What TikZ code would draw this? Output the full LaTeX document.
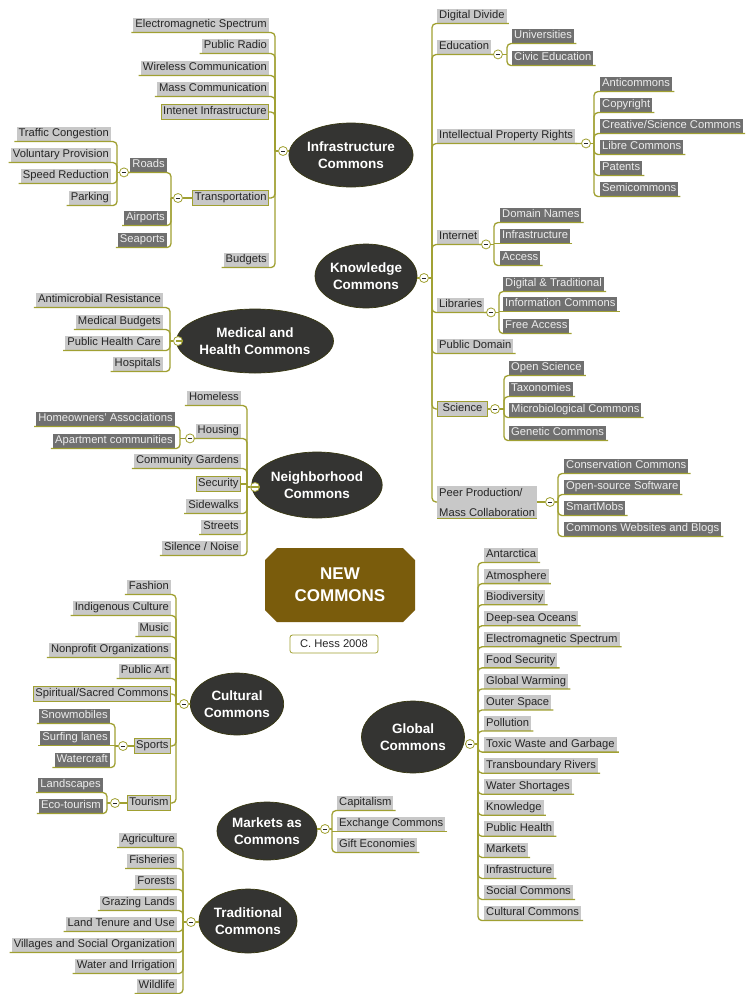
\documentclass[tikz,border=0pt]{standalone}
\usepackage{fontspec}
\setmainfont{Liberation Sans}
\usetikzlibrary{shapes.geometric}
\definecolor{oliv}{RGB}{160,160,50}
\definecolor{lgr}{RGB}{200,200,200}
\definecolor{dgr}{RGB}{112,112,112}
\definecolor{txt}{RGB}{38,38,38}
\definecolor{ellc}{RGB}{52,52,50}
\definecolor{newc}{RGB}{122,92,12}
\newcommand\labfont{\fontsize{11.2}{13}\selectfont}
\newcommand\labfontB{\fontsize{11.2}{20}\selectfont}
\newcommand\elfont{\fontsize{13.5}{17}\selectfont\bfseries}
\newcommand\myLU[2]{\draw[br] ([xshift=-2pt]#1.south west) -- (#1.south east -| #2) -- (#2);}
\newcommand\myRU[2]{\draw[br] ([xshift=2pt]#1.south east) -- (#1.south west -| #2) -- (#2);}
\newcommand\myLH[2]{\draw[br] ([xshift=-2pt]#1.south west) -- (#1.south east -| #2);}
\newcommand\myRH[2]{\draw[br] ([xshift=2pt]#1.south east) -- (#1.south west -| #2);}
\newcommand\myLB[2]{\draw[br] (#1.east) -- (#1.east -| #2) -- (#2);}
\newcommand\myRB[2]{\draw[br] (#1.west) -- (#1.west -| #2) -- (#2);}
\begin{document}
\begin{tikzpicture}[x=1pt,y=-1pt,
  lab/.style={font=\labfont, inner xsep=2pt, inner ysep=2pt, text height=8.3pt, text depth=2.4pt},
  lt/.style={lab, fill=lgr, text=txt},
  dk/.style={lab, fill=dgr, text=white!93!black},
  bx/.style={lt, draw=oliv, line width=0.9pt},
  br/.style={draw=oliv, line width=1.3pt, rounded corners=4pt},
  mn/.style={circle, draw=oliv, fill=white, line width=0.8pt, minimum size=9pt, inner sep=0pt,
    path picture={\draw[line width=0.8pt, txt] ([xshift=-2.2pt]path picture bounding box.center) -- ([xshift=2.2pt]path picture bounding box.center);}},
  el/.style={ellipse, fill=ellc, draw=oliv!35!black, line width=0.7pt, text=white, font=\elfont, align=center, inner sep=0pt}
]
\useasboundingbox (0,0) rectangle (747,994);
\fill[white] (0,0) rectangle (747,994);

% ---------------- Infrastructure Commons
\node[el, minimum width=116pt, minimum height=64pt] (IC) at (351,155) {Infrastructure\\Commons};
\node[mn] (mI) at (283,151) {};
\coordinate (tI) at (275,151);
\node[lt, anchor=east] (i1) at (269,25) {Electromagnetic Spectrum};
\node[lt, anchor=east] (i2) at (269,46) {Public Radio};
\node[lt, anchor=east] (i3) at (269,68) {Wireless Communication};
\node[lt, anchor=east] (i4) at (269,89) {Mass Communication};
\node[bx, anchor=east] (i5) at (269,112) {Intenet Infrastructure};
\node[bx, anchor=east] (i6) at (269,198) {Transportation};
\node[lt, anchor=east] (i7) at (269,260) {Budgets};
\node[mn] (mT) at (178,198) {};
\coordinate (tT) at (171,198);
\node[dk, anchor=east] (t1) at (167,165) {Roads};
\node[dk, anchor=east] (t2) at (167,218) {Airports};
\node[dk, anchor=east] (t3) at (167,240) {Seaports};
\node[mn] (mR) at (124,172.4) {};
\coordinate (tR) at (117,172.4);
\node[lt, anchor=east] (r1) at (111,134) {Traffic Congestion};
\node[lt, anchor=east] (r2) at (111,155) {Voluntary Provision};
\node[lt, anchor=east] (r3) at (111,176) {Speed Reduction};
\node[lt, anchor=east] (r4) at (111,198) {Parking};

\draw[br] (mI.east) -- (mI.east -| IC.west);
\draw[br] (mI.west) -- (tI);
\foreach \n in {i1,i2,i3,i4,i7} {\myLU{\n}{tI}}
\myLB{i5}{tI} \myLB{i6}{tI}
\draw[br] (i6.west) -- (mT.east);
\draw[br] (mT.west) -- (tT);
\foreach \n in {t1,t2,t3} {\myLU{\n}{tT}}
\draw[br] (t1.south west) -- (mR.east);
\draw[br] (mR.west) -- (tR);
\foreach \n in {r1,r2,r3,r4} {\myLU{\n}{tR}}

% ---------------- Knowledge Commons
\node[el, minimum width=102pt, minimum height=64pt] (KC) at (366,276) {Knowledge\\Commons};
\node[mn] (mK) at (424,278) {};
\coordinate (tK) at (432,278);
\node[lt, anchor=west] (k1) at (437,16) {Digital Divide};
\node[lt, anchor=west] (k2) at (437,47) {Education};
\node[lt, anchor=west] (k3) at (437,136) {Intellectual Property Rights};
\node[lt, anchor=west] (k4) at (437,237) {Internet};
\node[lt, anchor=west] (k5) at (437,305) {Libraries};
\node[lt, anchor=west] (k6) at (437,346) {Public Domain};
\node[bx, anchor=west, minimum width=50pt] (k7) at (437,409) {Science};
\node[font=\labfontB, inner xsep=2pt, inner ysep=2pt, fill=lgr, text=txt, align=left, anchor=west] (k8) at (437,502) {Peer Production/\\Mass Collaboration};

\node[mn] (mE) at (498,54.4) {};
\coordinate (tE) at (507,54.4);
\node[dk, anchor=west] (u1) at (512,36) {Universities};
\node[dk, anchor=west] (u2) at (512,58) {Civic Education};

\node[mn] (mIP) at (586,143.4) {};
\coordinate (tIP) at (594,143.4);
\node[dk, anchor=west] (p1) at (600,84) {Anticommons};
\node[dk, anchor=west] (p2) at (600,105) {Copyright};
\node[dk, anchor=west] (p3) at (600,126) {Creative/Science Commons};
\node[dk, anchor=west] (p4) at (600,147) {Libre Commons};
\node[dk, anchor=west] (p5) at (600,168) {Patents};
\node[dk, anchor=west] (p6) at (600,189) {Semicommons};

\node[mn] (mIn) at (486,244.4) {};
\coordinate (tIn) at (494,244.4);
\node[dk, anchor=west] (n1) at (500,215) {Domain Names};
\node[dk, anchor=west] (n2) at (500,236) {Infrastructure};
\node[dk, anchor=west] (n3) at (500,258) {Access};

\node[mn] (mL) at (491,312.4) {};
\coordinate (tL) at (499,312.4);
\node[dk, anchor=west] (l1) at (503,284) {Digital \& Traditional};
\node[dk, anchor=west] (l2) at (503,304) {Information Commons};
\node[dk, anchor=west] (l3) at (503,326) {Free Access};

\node[mn] (mS) at (495,409) {};
\coordinate (tS) at (504,409);
\node[dk, anchor=west] (s1) at (509,368) {Open Science};
\node[dk, anchor=west] (s2) at (509,389) {Taxonomies};
\node[dk, anchor=west] (s3) at (509,410) {Microbiological Commons};
\node[dk, anchor=west] (s4) at (509,433) {Genetic Commons};

\node[mn] (mP) at (550,502) {};
\coordinate (tP) at (558,502);
\node[dk, anchor=west] (q1) at (564,466) {Conservation Commons};
\node[dk, anchor=west] (q2) at (564,487) {Open-source Software};
\node[dk, anchor=west] (q3) at (564,508) {SmartMobs};
\node[dk, anchor=west] (q4) at (564,529) {Commons Websites and Blogs};

\draw[br] (mK.west) -- (mK.west -| KC.east);
\draw[br] (mK.east) -- (tK);
\foreach \n in {k1,k2,k3,k4,k5,k6} {\myRU{\n}{tK}}
\myRB{k7}{tK}
\myRB{k8}{tK}
\draw[br] (k8.south west) -- (k8.south east);
\draw[br] (k2.south east) -- (mE.west);
\draw[br] (mE.east) -- (tE);
\foreach \n in {u1,u2} {\myRU{\n}{tE}}
\draw[br] (k3.south east) -- (mIP.west);
\draw[br] (mIP.east) -- (tIP);
\foreach \n in {p1,p2,p3,p4,p5,p6} {\myRU{\n}{tIP}}
\draw[br] (k4.south east) -- (mIn.west);
\draw[br] (mIn.east) -- (tIn);
\myRU{n1}{tIn} \myRH{n2}{tIn} \myRU{n3}{tIn}
\draw[br] (k5.south east) -- (mL.west);
\draw[br] (mL.east) -- (tL);
\myRU{l1}{tL} \myRH{l2}{tL} \myRU{l3}{tL}
\draw[br] (k7.east) -- (mS.west);
\draw[br] (mS.east) -- (tS);
\foreach \n in {s1,s2,s3,s4} {\myRU{\n}{tS}}
\draw[br] (k8.east) -- (mP.west);
\draw[br] (mP.east) -- (tP);
\foreach \n in {q1,q2,q3,q4} {\myRU{\n}{tP}}

% ---------------- Medical and Health Commons
\node[el, minimum width=140pt, minimum height=64pt] (MC) at (255,341) {Medical and\\Health Commons};
\node[mn] (mM) at (178,341) {};
\coordinate (tM) at (170,341);
\node[lt, anchor=east] (h1) at (163,300) {Antimicrobial Resistance};
\node[lt, anchor=east] (h2) at (163,322) {Medical Budgets};
\node[lt, anchor=east] (h3) at (163,343) {Public Health Care};
\node[lt, anchor=east] (h4) at (163,364) {Hospitals};
\draw[br] (mM.east) -- (mM.east -| MC.west);
\draw[br] (mM.west) -- (tM);
\foreach \n in {h1,h2,h3,h4} {\myLU{\n}{tM}}

% ---------------- Neighborhood Commons
\node[el, minimum width=113pt, minimum height=66pt] (NC) at (317,485) {Neighborhood\\Commons};
\node[mn] (mN) at (255,487) {};
\coordinate (tN) at (247,487);
\node[lt, anchor=east] (b1) at (241,398) {Homeless};
\node[lt, anchor=east] (b2) at (241,431) {Housing};
\node[lt, anchor=east] (b3) at (241,461) {Community Gardens};
\node[bx, anchor=east] (b4) at (241,484) {Security};
\node[lt, anchor=east] (b5) at (241,506) {Sidewalks};
\node[lt, anchor=east] (b6) at (241,527) {Streets};
\node[lt, anchor=east] (b7) at (241,548) {Silence / Noise};
\node[mn] (mHo) at (190,438.4) {};
\coordinate (tHo) at (180,438.4);
\node[dk, anchor=east] (o1) at (175,419) {Homeowners' Associations};
\node[dk, anchor=east] (o2) at (175,441) {Apartment communities};
\draw[br] (mN.east) -- (mN.east -| NC.west);
\draw[br] (mN.west) -- (tN);
\foreach \n in {b1,b2,b3,b5,b6,b7} {\myLU{\n}{tN}}
\draw[br] (b4.east) -- (b4.east -| tN);
\draw[br] (b2.south west) -- (mHo.east);
\draw[br] (mHo.west) -- (tHo);
\foreach \n in {o1,o2} {\myLU{\n}{tHo}}

% ---------------- NEW COMMONS
\fill[newc] (277,548) -- (403,548) -- (415,560) -- (415,610) -- (403,622) -- (277,622) -- (265,610) -- (265,560) -- cycle;
\node[font=\fontsize{17}{22}\selectfont\bfseries, text=white, align=center] (nc) at (340,585) {NEW\\COMMONS};
\node[draw=oliv, fill=white, rounded corners=2.5pt, line width=0.8pt, font=\labfont, text=txt, minimum width=88pt, minimum height=18pt, inner sep=1pt] (hess) at (334,644) {C. Hess 2008};

% ---------------- Cultural Commons
\node[el, minimum width=92pt, minimum height=62pt] (CC) at (237,704) {Cultural\\Commons};
\node[mn] (mC) at (184,704) {};
\coordinate (tC) at (176,704);
\node[lt, anchor=east] (c1) at (171,587) {Fashion};
\node[lt, anchor=east] (c2) at (171,608) {Indigenous Culture};
\node[lt, anchor=east] (c3) at (171,629) {Music};
\node[lt, anchor=east] (c4) at (171,650) {Nonprofit Organizations};
\node[lt, anchor=east] (c5) at (171,671) {Public Art};
\node[bx, anchor=east] (c6) at (171,694) {Spiritual/Sacred Commons};
\node[bx, anchor=east] (c7) at (171,746) {Sports};
\node[bx, anchor=east] (c8) at (171,803) {Tourism};
\node[mn] (mSp) at (123,746) {};
\coordinate (tSp) at (115,746);
\node[dk, anchor=east] (y1) at (110,716) {Snowmobiles};
\node[dk, anchor=east] (y2) at (110,738) {Surfing lanes};
\node[dk, anchor=east] (y3) at (110,760) {Watercraft};
\node[mn] (mTo) at (115,803) {};
\coordinate (tTo) at (107,803);
\node[dk, anchor=east] (z1) at (103,785) {Landscapes};
\node[dk, anchor=east] (z2) at (103,806) {Eco-tourism};
\draw[br] (mC.east) -- (mC.east -| CC.west);
\draw[br] (mC.west) -- (tC);
\foreach \n in {c1,c2,c3,c4,c5} {\myLU{\n}{tC}}
\myLB{c6}{tC} \myLB{c7}{tC} \myLB{c8}{tC}
\draw[br] (c7.west) -- (mSp.east);
\draw[br] (mSp.west) -- (tSp);
\myLU{y1}{tSp} \myLH{y2}{tSp} \myLU{y3}{tSp}
\draw[br] (c8.west) -- (mTo.east);
\draw[br] (mTo.west) -- (tTo);
\foreach \n in {z1,z2} {\myLU{\n}{tTo}}

% ---------------- Global Commons
\node[el, minimum width=103pt, minimum height=72pt] (GC) at (413,737) {Global\\Commons};
\node[mn] (mG) at (470,744) {};
\coordinate (tG) at (478,744);
\foreach \t [count=\i from 0] in {Antarctica, Atmosphere, Biodiversity, Deep-sea Oceans, Electromagnetic Spectrum, Food Security, Global Warming, Outer Space, Pollution, Toxic Waste and Garbage, Transboundary Rivers, Water Shortages, Knowledge, Public Health, Markets, Infrastructure, Social Commons, Cultural Commons}
  {\node[lt, anchor=west] (g\i) at (484,555+21.06*\i) {\t};}
\draw[br] (mG.west) -- (mG.west -| GC.east);
\draw[br] (mG.east) -- (tG);
\foreach \i in {0,...,17} {\myRU{g\i}{tG}}

% ---------------- Markets as Commons
\node[el, minimum width=100pt, minimum height=58pt] (MkC) at (267,831) {Markets as\\Commons};
\node[mn] (mMk) at (325,829) {};
\coordinate (tMk) at (332,829);
\node[lt, anchor=west] (m1) at (337,803) {Capitalism};
\node[lt, anchor=west] (m2) at (337,824) {Exchange Commons};
\node[lt, anchor=west] (m3) at (337,845) {Gift Economies};
\draw[br] (mMk.west) -- (mMk.west -| MkC.east);
\draw[br] (mMk.east) -- (tMk);
\myRU{m1}{tMk} \myRH{m2}{tMk} \myRU{m3}{tMk}

% ---------------- Traditional Commons
\node[el, minimum width=98pt, minimum height=64pt] (TC) at (248,921) {Traditional\\Commons};
\node[mn] (mTr) at (191,922) {};
\coordinate (tTr) at (183,922);
\node[lt, anchor=east] (a1) at (177,840) {Agriculture};
\node[lt, anchor=east] (a2) at (177,861) {Fisheries};
\node[lt, anchor=east] (a3) at (177,882) {Forests};
\node[lt, anchor=east] (a4) at (177,903) {Grazing Lands};
\node[lt, anchor=east] (a5) at (177,924) {Land Tenure and Use};
\node[lt, anchor=east] (a6) at (177,945) {Villages and Social Organization};
\node[lt, anchor=east] (a7) at (177,966) {Water and Irrigation};
\node[lt, anchor=east] (a8) at (177,986) {Wildlife};
\draw[br] (mTr.east) -- (mTr.east -| TC.west);
\draw[br] (mTr.west) -- (tTr);
\foreach \n in {a1,a2,a3,a4,a5,a6,a7,a8} {\myLU{\n}{tTr}}
\end{tikzpicture}
\end{document}
